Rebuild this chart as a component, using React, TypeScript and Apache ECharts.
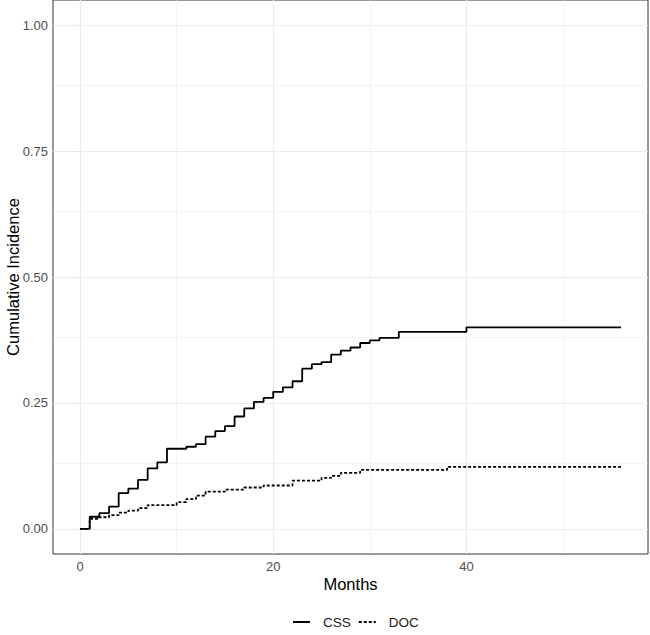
import React, { useEffect, useRef } from "react";
import * as echarts from "echarts";

const cssTimes = [0, 1, 2, 3, 4, 5, 6, 7, 8, 9, 11, 12, 13, 14, 15, 16, 17, 18, 19, 20, 21, 22, 23, 24, 25, 26, 27, 28, 29, 30, 31, 33, 40, 56];
const cssValues = [0, 0.024, 0.031, 0.044, 0.071, 0.08, 0.097, 0.12, 0.132, 0.159, 0.163, 0.168, 0.183, 0.194, 0.204, 0.223, 0.239, 0.252, 0.26, 0.272, 0.281, 0.293, 0.318, 0.327, 0.331, 0.346, 0.354, 0.36, 0.369, 0.374, 0.379, 0.391, 0.4, 0.4];

const docTimes = [0, 1, 2, 3, 4, 5, 6, 7, 10, 11, 12, 13, 15, 17, 19, 22, 25, 26, 27, 29, 38, 56];
const docValues = [0, 0.02, 0.023, 0.027, 0.032, 0.036, 0.041, 0.047, 0.053, 0.059, 0.066, 0.074, 0.078, 0.082, 0.086, 0.0955, 0.101, 0.105, 0.111, 0.117, 0.123, 0.123];

const xMajor = [0, 20, 40];
const xMinor = [10, 30, 50];
const yMajor = [0, 0.25, 0.5, 0.75, 1];
const yMinor = [0.125, 0.375, 0.625, 0.875];

const seriesNames = ["CSS", "DOC"];
const xTitle = "Months";
const yTitle = "Cumulative Incidence";

const FONT = "'Liberation Sans', Arial, Helvetica, sans-serif";

const SOLID_ICON = "path://M0,0h17v2h-17z";
const DOTTED_ICON = "path://M0,0h3v2h-3z M5,0h3v2h-3z M10,0h3v2h-3z M15,0h2v2h-2z";

export default function App() {
  const ref = useRef<HTMLDivElement>(null);

  useEffect(() => {
    if (!ref.current) return;
    const chart = echarts.init(ref.current, undefined, { renderer: "svg" });

    const xMaxData = 56;
    const xPad = xMaxData * 0.05;
    const yPad = 0.05;

    const grid: any[] = [];
    yMajor.forEach((v) => grid.push({ yAxis: v, lineStyle: { width: 1.1 } }));
    yMinor.forEach((v) => grid.push({ yAxis: v, lineStyle: { width: 0.55 } }));
    xMajor.forEach((v) => grid.push({ xAxis: v, lineStyle: { width: 1.1 } }));
    xMinor.forEach((v) => grid.push({ xAxis: v, lineStyle: { width: 0.55 } }));

    chart.setOption({
      animation: false,
      textStyle: { fontFamily: FONT },
      grid: {
        left: 53,
        right: 2,
        top: 0,
        bottom: 81,
        containLabel: false,
        outerBoundsMode: "none",
        show: true,
        borderColor: "#333333",
        borderWidth: 1,
        backgroundColor: "#ffffff",
      },
      legend: {
        data: [
          { name: seriesNames[0], icon: SOLID_ICON },
          { name: seriesNames[1], icon: DOTTED_ICON },
        ],
        left: 293,
        top: 615,
        padding: 0,
        itemWidth: 17,
        itemHeight: 2,
        itemGap: 8,
        textStyle: {
          fontFamily: FONT,
          fontSize: 13.5,
          color: "#1a1a1a",
          padding: [0, 0, 0, 8],
        },
      },
      xAxis: {
        type: "value",
        min: -xPad,
        max: xMaxData + xPad,
        name: xTitle,
        nameLocation: "middle",
        nameGap: 21,
        nameMoveOverlap: false,
        nameTextStyle: { fontFamily: FONT, fontSize: 16.5, color: "#000000" },
        axisLine: { show: false },
        axisTick: {
          show: true,
          length: 3.5,
          customValues: xMajor,
          lineStyle: { color: "#333333", width: 1 },
        },
        axisLabel: {
          show: true,
          customValues: xMajor,
          margin: 6,
          fontFamily: FONT,
          fontSize: 13,
          color: "#4d4d4d",
        },
        splitLine: { show: false },
      },
      yAxis: {
        type: "value",
        min: -yPad,
        max: 1 + yPad,
        name: yTitle,
        nameLocation: "middle",
        nameGap: 32,
        nameMoveOverlap: false,
        nameTextStyle: { fontFamily: FONT, fontSize: 16.5, color: "#000000" },
        axisLine: { show: false },
        axisTick: {
          show: true,
          length: 3.5,
          customValues: yMajor,
          lineStyle: { color: "#333333", width: 1 },
        },
        axisLabel: {
          show: true,
          customValues: yMajor,
          margin: 5,
          fontFamily: FONT,
          fontSize: 13,
          color: "#4d4d4d",
          formatter: (v: number) => v.toFixed(2),
        },
        splitLine: { show: false },
      },
      series: [
        {
          type: "line",
          name: "__grid",
          data: [],
          z: 1,
          silent: true,
          markLine: {
            silent: true,
            z: 1,
            symbol: ["none", "none"],
            label: { show: false },
            animation: false,
            lineStyle: { color: "#ebebeb", type: "solid", width: 1 },
            emphasis: { disabled: true },
            data: grid,
          },
        },
        {
          type: "line",
          name: seriesNames[0],
          step: "end",
          z: 3,
          showSymbol: false,
          symbol: "none",
          data: cssTimes.map((t, i) => [t, cssValues[i]]),
          lineStyle: { color: "#000000", width: 1.8, type: "solid" },
          itemStyle: { color: "#000000" },
        },
        {
          type: "line",
          name: seriesNames[1],
          step: "end",
          z: 3,
          showSymbol: false,
          symbol: "none",
          data: docTimes.map((t, i) => [t, docValues[i]]),
          lineStyle: { color: "#000000", width: 1.8, type: [3, 2] },
          itemStyle: { color: "#000000" },
        },
      ],
    });

    return () => chart.dispose();
  }, []);

  return (
    <div
      ref={ref}
      style={{ position: "absolute", left: 0, top: 0, width: 650, height: 635, background: "#ffffff" }}
    />
  );
}
